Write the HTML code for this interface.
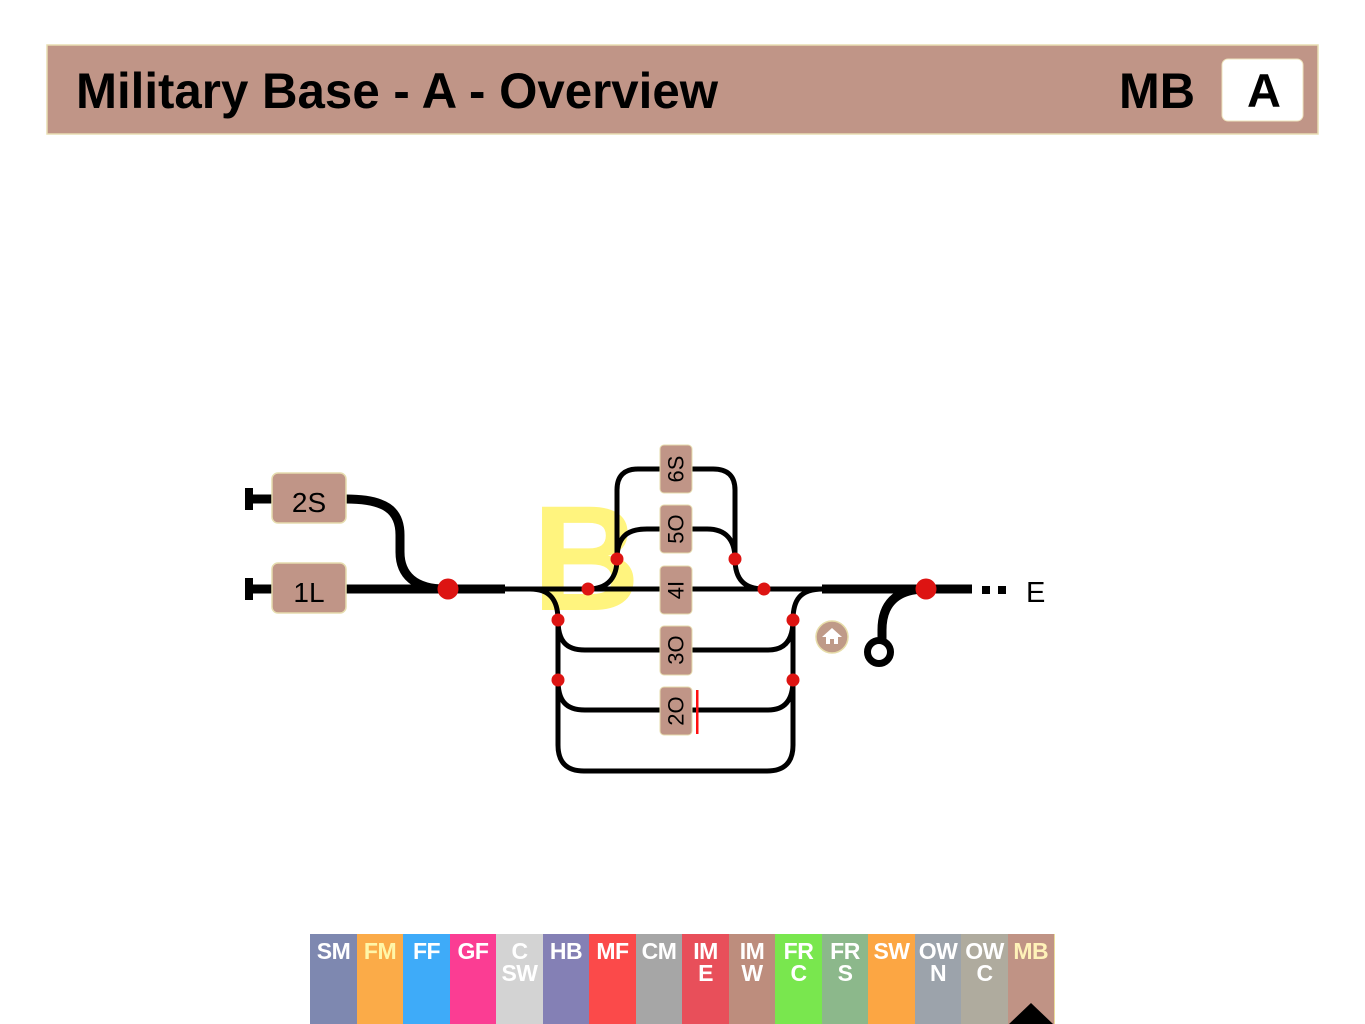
<!DOCTYPE html>
<html>
<head>
<meta charset="utf-8">
<style>
  html,body{margin:0;padding:0;background:#fff;}
  body{width:1365px;height:1024px;position:relative;overflow:hidden;font-family:"Liberation Sans",sans-serif;}
  svg{position:absolute;left:0;top:0;}
  .tab{position:absolute;top:934px;height:90px;width:47px;text-align:center;color:#fff;font-weight:bold;font-size:23px;line-height:22px;padding-top:6px;box-sizing:border-box;letter-spacing:-0.5px;}
</style>
</head>
<body>
<svg width="1365" height="1024" viewBox="0 0 1365 1024" xmlns="http://www.w3.org/2000/svg">
  <!-- Header -->
  <rect x="47" y="45" width="1271" height="89" fill="#c09587" stroke="#e8ddb2" stroke-width="1.5"/>
  <text x="76" y="108" font-family="Liberation Sans, sans-serif" font-weight="bold" font-size="50" fill="#000" textLength="642" lengthAdjust="spacingAndGlyphs">Military Base - A - Overview</text>
  <text x="1119" y="108" font-family="Liberation Sans, sans-serif" font-weight="bold" font-size="50" fill="#000" textLength="76" lengthAdjust="spacingAndGlyphs">MB</text>
  <rect x="1222" y="59" width="81" height="62" rx="6" fill="#fff" stroke="#eee4bd" stroke-width="1"/>
  <text x="1264" y="107" text-anchor="middle" font-family="Liberation Sans, sans-serif" font-weight="bold" font-size="47" fill="#000">A</text>

  <!-- Yellow B -->
  <text x="532" y="610" font-family="Liberation Sans, sans-serif" font-weight="bold" font-size="150" fill="#fff47e">B</text>

  <!-- Buffer stops -->
  <rect x="245" y="488" width="8" height="22" fill="#000"/>
  <line x1="253" y1="499" x2="273" y2="499" stroke="#000" stroke-width="9"/>
  <rect x="245" y="578" width="8" height="22" fill="#000"/>
  <line x1="253" y1="589" x2="273" y2="589" stroke="#000" stroke-width="9"/>

  <!-- Thick lines -->
  <g fill="none" stroke="#000" stroke-width="9">
    <path d="M346 499 C385 499 400 510 400 535 L400 552 C400 575 415 589 445 589"/>
    <line x1="346" y1="589" x2="505" y2="589"/>
    <line x1="822" y1="589" x2="972" y2="589"/>
    <path d="M926 589 C895 589 882 605 882 630 L882 642"/>
  </g>
  <circle cx="879" cy="652" r="11.5" fill="#fff" stroke="#000" stroke-width="7"/>

  <!-- Thin lines -->
  <g fill="none" stroke="#000" stroke-width="5">
    <line x1="500" y1="589" x2="826" y2="589"/>
    <path d="M530 589 C550 589 558 600 558 620"/>
    <path d="M558 620 L558 745 Q558 771 584 771 L767 771 Q793 771 793 745 L793 620"/>
    <path d="M558 620 C558 640 565 650 585 650 L768 650 C785 650 793 640 793 620"/>
    <path d="M558 680 C558 700 565 710 585 710 L768 710 C785 710 793 700 793 680"/>
    <path d="M793 620 C793 600 800 589 823 589"/>
    <path d="M588 589 C610 589 617 575 617 559"/>
    <path d="M617 559 L617 490 Q617 469 638 469 L713 469 Q735 469 735 490 L735 559"/>
    <path d="M617 559 C617 537 627 529 647 529 L707 529 C726 529 735 540 735 559"/>
    <path d="M735 559 C735 580 745 589 764 589"/>
  </g>

  <!-- E end -->
  <rect x="982" y="586" width="8" height="8" fill="#000"/>
  <rect x="998" y="586" width="8" height="8" fill="#000"/>
  <text x="1026" y="602" font-family="Liberation Sans, sans-serif" font-size="29" fill="#000">E</text>

  <!-- Red dots -->
  <g fill="#dd1412">
    <circle cx="448" cy="589" r="10.5"/>
    <circle cx="926" cy="589" r="10.5"/>
    <circle cx="588" cy="589" r="6.5"/>
    <circle cx="617" cy="559" r="6.5"/>
    <circle cx="735" cy="559" r="6.5"/>
    <circle cx="764" cy="589" r="6.5"/>
    <circle cx="558" cy="620" r="6.5"/>
    <circle cx="558" cy="680" r="6.5"/>
    <circle cx="793" cy="620" r="6.5"/>
    <circle cx="793" cy="680" r="6.5"/>
  </g>

  <!-- Left boxes -->
  <rect x="272" y="473" width="74" height="50" rx="6" fill="#c09587" stroke="#e6dcae" stroke-width="1.5"/>
  <text x="309" y="512" text-anchor="middle" font-family="Liberation Sans, sans-serif" font-size="28" fill="#000">2S</text>
  <rect x="272" y="563" width="74" height="50" rx="6" fill="#c09587" stroke="#e6dcae" stroke-width="1.5"/>
  <text x="309" y="602" text-anchor="middle" font-family="Liberation Sans, sans-serif" font-size="28" fill="#000">1L</text>

  <!-- Vertical label boxes -->
  <g font-family="Liberation Sans, sans-serif" font-size="22" fill="#000">
    <rect x="660" y="445" width="32" height="48" rx="4" fill="#c09587" stroke="#e6dcae" stroke-width="1"/>
    <text x="676" y="469" text-anchor="middle" dominant-baseline="central" transform="rotate(-90 676 469)">6S</text>
    <rect x="660" y="505" width="32" height="48" rx="4" fill="#c09587" stroke="#e6dcae" stroke-width="1"/>
    <text x="676" y="529" text-anchor="middle" dominant-baseline="central" transform="rotate(-90 676 529)">5O</text>
    <rect x="660" y="566" width="32" height="48" rx="4" fill="#c09587" stroke="#e6dcae" stroke-width="1"/>
    <text x="676" y="590" text-anchor="middle" dominant-baseline="central" transform="rotate(-90 676 590)">4I</text>
    <rect x="660" y="626" width="32" height="49" rx="4" fill="#c09587" stroke="#e6dcae" stroke-width="1"/>
    <text x="676" y="650" text-anchor="middle" dominant-baseline="central" transform="rotate(-90 676 650)">3O</text>
    <rect x="660" y="687" width="32" height="48" rx="4" fill="#c09587" stroke="#e6dcae" stroke-width="1"/>
    <text x="676" y="711" text-anchor="middle" dominant-baseline="central" transform="rotate(-90 676 711)">2O</text>
  </g>
  <rect x="696" y="690" width="2.5" height="44" fill="#ff1010"/>

  <!-- Home icon -->
  <circle cx="832" cy="637" r="16" fill="#bf9a88" stroke="#e6dca8" stroke-width="1.5"/>
  <polygon points="832,628 822,637 842,637" fill="#fff"/>
  <rect x="826" y="636" width="12" height="8" fill="#fff"/>
  <rect x="830" y="639" width="4" height="5" fill="#bf9a88"/>

  <!-- MB tab triangle drawn later in HTML layer -->
</svg>

<div class="tab" style="left:310px;background:#7e88b0;">SM</div>
<div class="tab" style="left:356.5px;background:#fbab48;color:#fff6a8;">FM</div>
<div class="tab" style="left:403px;background:#3eabf9;">FF</div>
<div class="tab" style="left:449.5px;background:#fb3d93;">GF</div>
<div class="tab" style="left:496px;background:#d3d3d3;">C<br>SW</div>
<div class="tab" style="left:542.5px;background:#8480b5;">HB</div>
<div class="tab" style="left:589px;background:#fb4a4a;">MF</div>
<div class="tab" style="left:635.5px;background:#a6a6a6;">CM</div>
<div class="tab" style="left:682px;background:#e84f5a;">IM<br>E</div>
<div class="tab" style="left:728.5px;background:#bd8d7d;">IM<br>W</div>
<div class="tab" style="left:775px;background:#79e74e;">FR<br>C</div>
<div class="tab" style="left:821.5px;background:#8cb88b;">FR<br>S</div>
<div class="tab" style="left:868px;background:#fca643;">SW</div>
<div class="tab" style="left:914.5px;background:#9ca3ab;">OW<br>N</div>
<div class="tab" style="left:961px;background:#afab9e;">OW<br>C</div>
<div class="tab" style="left:1007.5px;width:47.5px;background:#c09385;color:#fff2b8;border-right:1.5px solid #eadc9a;">MB</div>
<svg width="1365" height="1024" viewBox="0 0 1365 1024" xmlns="http://www.w3.org/2000/svg" style="pointer-events:none;">
  <polygon points="1009,1024 1031,1003 1053,1024" fill="#000"/>
</svg>
</body>
</html>
